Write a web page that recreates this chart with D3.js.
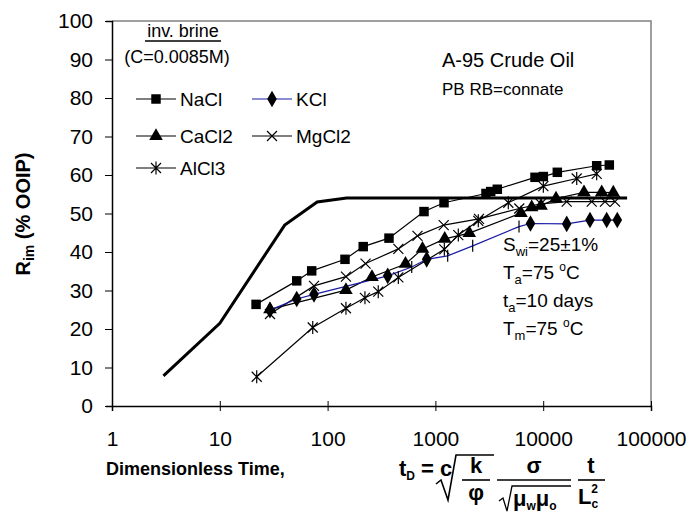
<!DOCTYPE html>
<html>
<head>
<meta charset="utf-8">
<script src="https://cdn.jsdelivr.net/npm/d3@7/dist/d3.min.js"></script>
<style>
  body { margin: 0; background: #fff; }
  text { font-family: Arial, "Liberation Sans", sans-serif; fill: #000; }
</style>
</head>
<body>
<div class="canvas"></div>
<script>
// x = dimensionless time, y = recovery (% OOIP)
const yTicks = [0, 10, 20, 30, 40, 50, 60, 70, 80, 90, 100];
const xTicks = [1, 10, 100, 1000, 10000, 100000];

const curveX = [3, 10, 40, 80, 150, 60000];
const curveY = [7.8, 21.5, 47, 53, 54, 54];

const naclX = [21.7, 51.7, 71.2, 145, 214, 371, 784, 1202, 2946, 3258, 3752, 8395, 10030, 13520, 31350, 41040];
const naclY = [26.4, 32.5, 35.1, 38.1, 41.4, 43.6, 50.5, 52.8, 55.2, 55.7, 56.3, 59.4, 59.6, 60.7, 62.4, 62.6];

const kclX = [29.2, 51.7, 74.8, 361, 603, 830, 1300, 2218, 5966, 7623, 16520, 27170, 38800, 48670];
const kclY = [24.9, 27.8, 29.0, 33.8, 36.1, 38.1, 39.0, 41.6, 46.6, 47.4, 47.3, 48.3, 48.3, 48.3];
const kclBar = [false, false, false, false, true, false, true, true, true, false, false, false, false, false];

const cacl2X = [29.2, 148, 258, 528, 759, 1220, 2063, 6222, 7820, 9545, 13150, 23900, 34900, 44700];
const cacl2Y = [25.1, 30.1, 33.5, 36.9, 40.8, 43.4, 44.9, 50.1, 51.6, 52.0, 53.9, 55.5, 55.5, 55.4];

const mgcl2X = [29.2, 74.8, 148, 225, 453, 682, 1194, 2537, 6000, 9500, 16520, 28180, 37430, 46380];
const mgcl2Y = [23.9, 31.2, 33.6, 37.0, 40.8, 44.2, 47.0, 48.6, 51.3, 52.5, 53.1, 53.1, 53.1, 53.1];

const alcl3X = [22, 72.8, 148, 222, 295, 453, 1210, 1631, 2500, 4745, 10030, 20460, 31350];
const alcl3Y = [7.6, 20.4, 25.4, 28.1, 29.7, 33.4, 40.7, 44.4, 48.1, 52.8, 57.1, 59.1, 60.3];

const svg = d3.select('.canvas')
    .append('svg')
    .attr('width', 696)
    .attr('height', 527);

svg.append('rect').attr('width', 696).attr('height', 527).attr('fill', '#fff');

const x = d3.scaleLog().domain([1, 100000]).range([112, 651]);
const y = d3.scaleLinear().domain([0, 100]).range([406, 21]);

// frame (grey top/right)
svg.append('path')
    .attr('d', `M${x(1)},${y(100)}H${x(100000)}V${y(0)}`)
    .attr('fill', 'none')
    .attr('stroke', '#808080')
    .attr('stroke-width', 1.5);

// axes
const yAxis = d3.axisLeft(y).tickValues(yTicks).tickSize(6).tickPadding(13);
const xAxis = d3.axisBottom(x).tickValues(xTicks).tickFormat(d3.format('d')).tickSize(5).tickPadding(20);

const yAxisGroup = svg.append('g').attr('transform', `translate(${x(1)},0)`).call(yAxis);
const xAxisGroup = svg.append('g').attr('transform', `translate(0,${y(0)})`).call(xAxis);

[yAxisGroup, xAxisGroup].forEach(g => {
    g.select('.domain').attr('stroke', '#000').attr('stroke-width', 1.5);
    g.selectAll('.tick line').attr('stroke', '#000');
    g.selectAll('text')
        .attr('font-family', 'Arial, "Liberation Sans", sans-serif')
        .attr('font-size', 21)
        .attr('fill', '#000');
});
xAxisGroup.selectAll('.tick line').attr('y1', -5);
yAxisGroup.selectAll('.tick line').attr('x2', -7).attr('x1', 1);

// series
const line = d3.line().x(d => x(d[0])).y(d => y(d[1]));
const zip = (xs, ys) => xs.map((v, i) => [v, ys[i]]);

const plot = svg.append('g');

plot.append('path')
    .datum(zip(curveX, curveY))
    .attr('d', line)
    .attr('fill', 'none')
    .attr('stroke', '#000')
    .attr('stroke-width', 3);

const markers = {
    square: d3.symbol().type(d3.symbolSquare).size(90)(),
    diamond: d3.symbol().type(d3.symbolDiamond).size(80)(),
    triangle: d3.symbol().type(d3.symbolTriangle).size(80)(),
    cross: 'M-5,-5L5,5M-5,5L5,-5',
    star: 'M-5,-5L5,5M-5,5L5,-5M0,-6.5L0,6.5',
    bar: 'M0,-6L0,6'
};

const series = [
    { name: 'NaCl', xs: naclX, ys: naclY, mark: 'square', color: '#000' },
    { name: 'CaCl2', xs: cacl2X, ys: cacl2Y, mark: 'triangle', color: '#000' },
    { name: 'MgCl2', xs: mgcl2X, ys: mgcl2Y, mark: 'cross', color: '#000' },
    { name: 'AlCl3', xs: alcl3X, ys: alcl3Y, mark: 'star', color: '#000' },
    { name: 'KCl', xs: kclX, ys: kclY, mark: 'diamond', color: '#1a1aa6' }
];

function drawMark(g, type, px, py) {
    const filled = type === 'square' || type === 'diamond' || type === 'triangle';
    g.append('path')
        .attr('d', markers[type])
        .attr('transform', `translate(${px},${py})`)
        .attr('fill', filled ? '#000' : 'none')
        .attr('stroke', '#000')
        .attr('stroke-width', filled ? 0 : 1.2);
}

series.forEach(s => {
    plot.append('path')
        .datum(zip(s.xs, s.ys))
        .attr('d', line)
        .attr('fill', 'none')
        .attr('stroke', s.color)
        .attr('stroke-width', 1.2);
});
series.forEach(s => {
    zip(s.xs, s.ys).forEach((p, i) => {
        const type = (s.name === 'KCl' && kclBar[i]) ? 'bar' : s.mark;
        drawMark(plot, type, x(p[0]), y(p[1]));
    });
});

// legend
const legend = svg.append('g');
legend.append('text').attr('x', 183).attr('y', 37).attr('text-anchor', 'middle')
    .attr('font-size', 18).text('inv. brine');
legend.append('line').attr('x1', 145).attr('x2', 221).attr('y1', 41).attr('y2', 41)
    .attr('stroke', '#000').attr('stroke-width', 1.5);
legend.append('text').attr('x', 177).attr('y', 63).attr('text-anchor', 'middle')
    .attr('font-size', 18).text('(C=0.0085M)');

const legendItems = [
    { s: series[0], lx: 136, ly: 99 },
    { s: series[4], lx: 252, ly: 99 },
    { s: series[1], lx: 136, ly: 136 },
    { s: series[2], lx: 252, ly: 136 },
    { s: series[3], lx: 136, ly: 168 }
];
legendItems.forEach(item => {
    legend.append('line')
        .attr('x1', item.lx).attr('x2', item.lx + 40)
        .attr('y1', item.ly).attr('y2', item.ly)
        .attr('stroke', item.s.color).attr('stroke-width', 1.2);
    drawMark(legend, item.s.mark, item.lx + 20, item.ly);
    legend.append('text').attr('x', item.lx + 44).attr('y', item.ly + 7)
        .attr('font-size', 19).text(item.s.name);
});

// annotations
svg.append('text').attr('x', 442).attr('y', 67).attr('font-size', 20).text('A-95 Crude Oil');
svg.append('text').attr('x', 442).attr('y', 95).attr('font-size', 17).text('PB RB=connate');

const ann = svg.append('g').attr('font-size', 19);
const sub = (t, s) => {
    t.append('tspan').attr('font-size', 13).attr('dy', 5).text(s);
};
const a1 = ann.append('text').attr('x', 503).attr('y', 251);
a1.append('tspan').text('S');
sub(a1, 'wi');
a1.append('tspan').attr('dy', -5).text('=25±1%');

const a2 = ann.append('text').attr('x', 503).attr('y', 279);
a2.append('tspan').text('T');
sub(a2, 'a');
a2.append('tspan').attr('dy', -5).text('=75 ');
a2.append('tspan').attr('font-size', 12).attr('dy', -8).text('o');
a2.append('tspan').attr('dy', 8).text('C');

const a3 = ann.append('text').attr('x', 503).attr('y', 307);
a3.append('tspan').text('t');
sub(a3, 'a');
a3.append('tspan').attr('dy', -5).text('=10 days');

const a4 = ann.append('text').attr('x', 503).attr('y', 335);
a4.append('tspan').text('T');
sub(a4, 'm');
a4.append('tspan').attr('dy', -5).text('=75 ');
a4.append('tspan').attr('font-size', 12).attr('dy', -8).text('o');
a4.append('tspan').attr('dy', 8).text('C');

// axis titles
const yTitle = svg.append('text')
    .attr('transform', 'translate(30,214) rotate(-90)')
    .attr('text-anchor', 'middle')
    .attr('font-weight', 'bold')
    .attr('font-size', 20);
yTitle.append('tspan').text('R');
yTitle.append('tspan').attr('font-size', 14).attr('dy', 4).text('im');
yTitle.append('tspan').attr('dy', -4).text(' (% OOIP)');

svg.append('text').attr('x', 106).attr('y', 475)
    .attr('font-weight', 'bold').attr('font-size', 18)
    .text('Dimensionless Time,');

// formula t_D = c sqrt(k/phi) sigma/sqrt(mu_w mu_o) t/L_c^2
const serif = '"Liberation Serif", "Times New Roman", serif';
const f = svg.append('g').attr('font-weight', 'bold');
const ftext = (px, py, s, anchor) => f.append('text')
    .attr('x', px).attr('y', py)
    .attr('text-anchor', anchor || 'start')
    .attr('font-size', 22)
    .attr('font-family', serif)
    .text(s || null);
const stroke = (d, w) => f.append('path').attr('d', d).attr('fill', 'none')
    .attr('stroke', '#000').attr('stroke-width', w || 1.6);

const ft = ftext(399, 476);
ft.append('tspan').text('t');
ft.append('tspan').attr('font-size', 12).attr('dy', 4).text('D');
ft.append('tspan').attr('dy', -4).text(' = c');

// sqrt(k/phi)
stroke('M436,484L441,480L448,500L456,455H494', 1.6);
ftext(476, 473, 'k', 'middle');
stroke('M462,480H490');
ftext(476, 500, 'φ', 'middle');

// sigma / sqrt(mu_w mu_o)
ftext(534, 473, 'σ', 'middle');
stroke('M497,480H571');
stroke('M499,501L503,498L507,511L512,486H571', 1.3);
const mu = ftext(513, 506);
mu.append('tspan').text('μ');
mu.append('tspan').attr('font-size', 12).attr('dy', 4).text('w');
mu.append('tspan').attr('dy', -4).text('μ');
mu.append('tspan').attr('font-size', 12).attr('dy', 4).text('o');

// t / L_c^2
ftext(591, 473, 't', 'middle');
stroke('M578,480H605');
const lc = ftext(578, 504);
lc.append('tspan').text('L');
lc.append('tspan').attr('font-size', 12).attr('dy', 4).text('c');
lc.append('tspan').attr('font-size', 12).attr('dx', -7).attr('dy', -15).text('2');
</script>
</body>
</html>
